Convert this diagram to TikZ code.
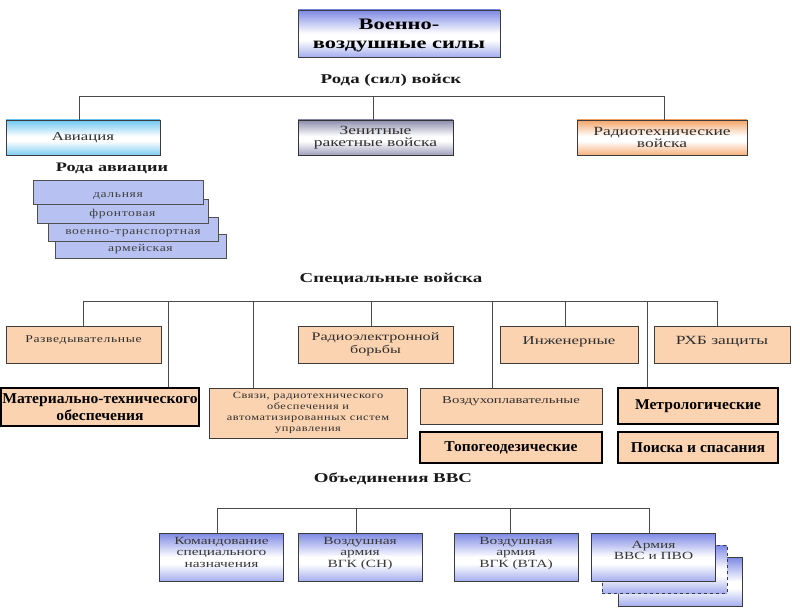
\documentclass[tikz,border=0pt]{standalone}
\usepackage{fontspec}
\setmainfont{Liberation Serif}[FakeStretch=1.4]
\newfontfamily\bcond{Liberation Serif}[FakeStretch=1.04]
\newfontfamily\lsp{Liberation Serif}[FakeStretch=1.3,LetterSpace=6]
\definecolor{ln}{HTML}{4A4A4A}
\definecolor{bd}{HTML}{3C3C3C}
\definecolor{peach}{HTML}{FBD3B0}
\definecolor{stackc}{HTML}{B8C2F2}
\definecolor{bluetop}{HTML}{7C88E4}
\definecolor{bluebot}{HTML}{A4AEEE}
\definecolor{cyantop}{HTML}{6CC6F0}
\definecolor{cyanbot}{HTML}{7ECEF2}
\definecolor{graytop}{HTML}{8C8CAE}
\definecolor{graybot}{HTML}{A0A0BE}
\definecolor{orgtop}{HTML}{F4A468}
\definecolor{orgbot}{HTML}{F6B07C}
\definecolor{txt}{HTML}{2E2E2E}
\pgfdeclareverticalshading{gblue}{100bp}{color(0bp)=(bluebot); color(25bp)=(bluebot); color(43bp)=(white); color(50bp)=(white); color(75bp)=(bluetop); color(100bp)=(bluetop)}
\pgfdeclareverticalshading{gcyan}{100bp}{color(0bp)=(cyanbot); color(25bp)=(cyanbot); color(45bp)=(white); color(52bp)=(white); color(75bp)=(cyantop); color(100bp)=(cyantop)}
\pgfdeclareverticalshading{ggray}{100bp}{color(0bp)=(graybot); color(25bp)=(graybot); color(45bp)=(white); color(52bp)=(white); color(75bp)=(graytop); color(100bp)=(graytop)}
\pgfdeclareverticalshading{gorg}{100bp}{color(0bp)=(orgbot); color(25bp)=(orgbot); color(45bp)=(white); color(52bp)=(white); color(75bp)=(orgtop); color(100bp)=(orgtop)}
\tikzset{
  base/.style={draw=bd, line width=0.9pt, inner sep=1pt, align=center, text=txt},
  gbox/.style={base, shading=#1},
  pbox/.style={base, fill=peach},
  tbox/.style={base, fill=peach, draw=black, line width=2pt, text=black,
    font=\bcond\bfseries\fontsize{15}{17.5}\selectfont},
  sbox/.style={base, fill=stackc, draw=bd!90, text height=10.5pt, text depth=0pt,
    font=\lsp\fontsize{10.5}{12}\selectfont, text=black!75},
  sz/.style 2 args={minimum width=#1pt, minimum height=#2pt},
  conn/.style={draw=ln, line width=0.9pt},
  ttl/.style={font=\bfseries\fontsize{13.5}{16}\selectfont, text=black!90},
}
\begin{document}
\begin{tikzpicture}[x=1pt,y=-1pt]
\useasboundingbox[fill=white] (0,0) rectangle (800,612);
% top
\node[gbox=gblue, sz={202}{47}, text=black, text height=33.5pt, font=\bfseries\fontsize{16}{19}\selectfont] (vvs) at (399,33.5) {Военно-\\воздушные силы};
\node[ttl] (l1) at (391,80) {Рода (сил) войск};
\node[gbox=gcyan, sz={154}{35}, font=\fontsize{12}{13}\selectfont] (av) at (83,137.5) {Авиация};
\node[gbox=ggray, sz={155}{35}, draw=black!80, font=\fontsize{12.5}{12.5}\selectfont] (zen) at (375.5,137.5) {Зенитные\\ракетные войска};
\node[gbox=gorg, sz={170}{35}, font=\fontsize{12.5}{12.5}\selectfont] (rad) at (662,137.5) {Радиотехнические\\войска};
\coordinate (b1l) at (79,96);
\coordinate (b1m) at (373,96);
\coordinate (b1r) at (664,96);
\draw[conn] (b1l) -- (b1r);
\draw[conn] (b1l) -- (b1l |- av.north);
\draw[conn] (b1m) -- (b1m |- zen.north);
\draw[conn] (b1r) -- (b1r |- rad.north);
% aviation kinds
\node[ttl, font=\bfseries\fontsize{13}{15}\selectfont] (l2) at (112,168) {Рода авиации};
\node[sbox, sz={171}{24}] (d4) at (140.5,246) {армейская};
\node[sbox, sz={170}{24}] (d3) at (133,229.5) {военно-транспортная};
\node[sbox, sz={171}{24}] (d2) at (122.5,211) {фронтовая};
\node[sbox, sz={170}{24}] (d1) at (118,192) {дальняя};
% special troops
\node[ttl] (l3) at (391,279) {Специальные войска};
\node[pbox, sz={155}{37}, text height=7pt, text depth=11pt, font=\lsp\fontsize{10.5}{12}\selectfont] (r1) at (83.5,344.5) {Разведывательные};
\node[pbox, sz={155}{37}, font=\fontsize{11.5}{13}\selectfont] (r2) at (375.5,344.5) {Радиоэлектронной\\борьбы};
\node[pbox, sz={138}{37}, text height=8pt, text depth=9pt, font=\fontsize{12}{13}\selectfont] (r3) at (569,344.5) {Инженерные};
\node[pbox, sz={136}{37}, text height=8pt, text depth=9pt, font=\fontsize{12.5}{13}\selectfont] (r4) at (722,344.5) {РХБ защиты};
\node[tbox, sz={198}{38}] (m1) at (100,407) {Материально-технического\\обеспечения};
\node[pbox, sz={198}{50}, font=\lsp\fontsize{9.5}{10.8}\selectfont] (sv) at (308,413) {Связи, радиотехнического\\обеспечения и\\автоматизированных систем\\управления};
\node[pbox, sz={182}{36}, text height=7pt, text depth=12pt, font=\fontsize{10.5}{12}\selectfont] (vz) at (511,406) {Воздухоплавательные};
\node[tbox, sz={182}{31}] (tp) at (511,447.5) {Топогеодезические};
\node[tbox, sz={160}{36}] (mt) at (698,406) {Метрологические};
\node[tbox, sz={160}{31}] (pk) at (698,447.5) {Поиска и спасания};
\coordinate (s1) at (83,301);
\coordinate (s2) at (168,301);
\coordinate (s3) at (253,301);
\coordinate (s4) at (371,301);
\coordinate (s5) at (492,301);
\coordinate (s6) at (565,301);
\coordinate (s7) at (647,301);
\coordinate (s8) at (717,301);
\draw[conn] (s1) -- (s8);
\draw[conn] (s1) -- (s1 |- r1.north);
\draw[conn] (s2) -- (s2 |- m1.north);
\draw[conn] (s3) -- (s3 |- sv.north);
\draw[conn] (s4) -- (s4 |- r2.north);
\draw[conn] (s5) -- (s5 |- vz.north);
\draw[conn] (s6) -- (s6 |- r3.north);
\draw[conn] (s7) -- (s7 |- mt.north);
\draw[conn] (s8) -- (s8 |- r4.north);
% associations
\node[ttl] (l4) at (393,479) {Объединения ВВС};
\tikzset{bb/.style={gbox=gblue, sz={124}{48}, text depth=10pt, text=black!78, font=\fontsize{11}{11.5}\selectfont}}
\node[bb] (o1) at (221.5,557) {Командование\\специального\\назначения};
\node[bb] (o2) at (360,557) {Воздушная\\армия\\ВГК (СН)};
\node[bb] (o3) at (516,557) {Воздушная\\армия\\ВГК (ВТА)};
\node[gbox=gblue, sz={124}{49}] (sh2) at (680,581.5) {};
\node[gbox=gblue, dashed, sz={125}{48}] (sh1) at (664.5,569) {};
\node[bb, text depth=13pt] (o4) at (653.5,557) {Армия\\ВВС и ПВО};
\coordinate (u1) at (217,508);
\coordinate (u2) at (356,508);
\coordinate (u3) at (510,508);
\coordinate (u4) at (649,508);
\draw[conn] (u1) -- (u4);
\draw[conn] (u1) -- (u1 |- o1.north);
\draw[conn] (u2) -- (u2 |- o2.north);
\draw[conn] (u3) -- (u3 |- o3.north);
\draw[conn] (u4) -- (u4 |- o4.north);
\end{tikzpicture}
\end{document}
